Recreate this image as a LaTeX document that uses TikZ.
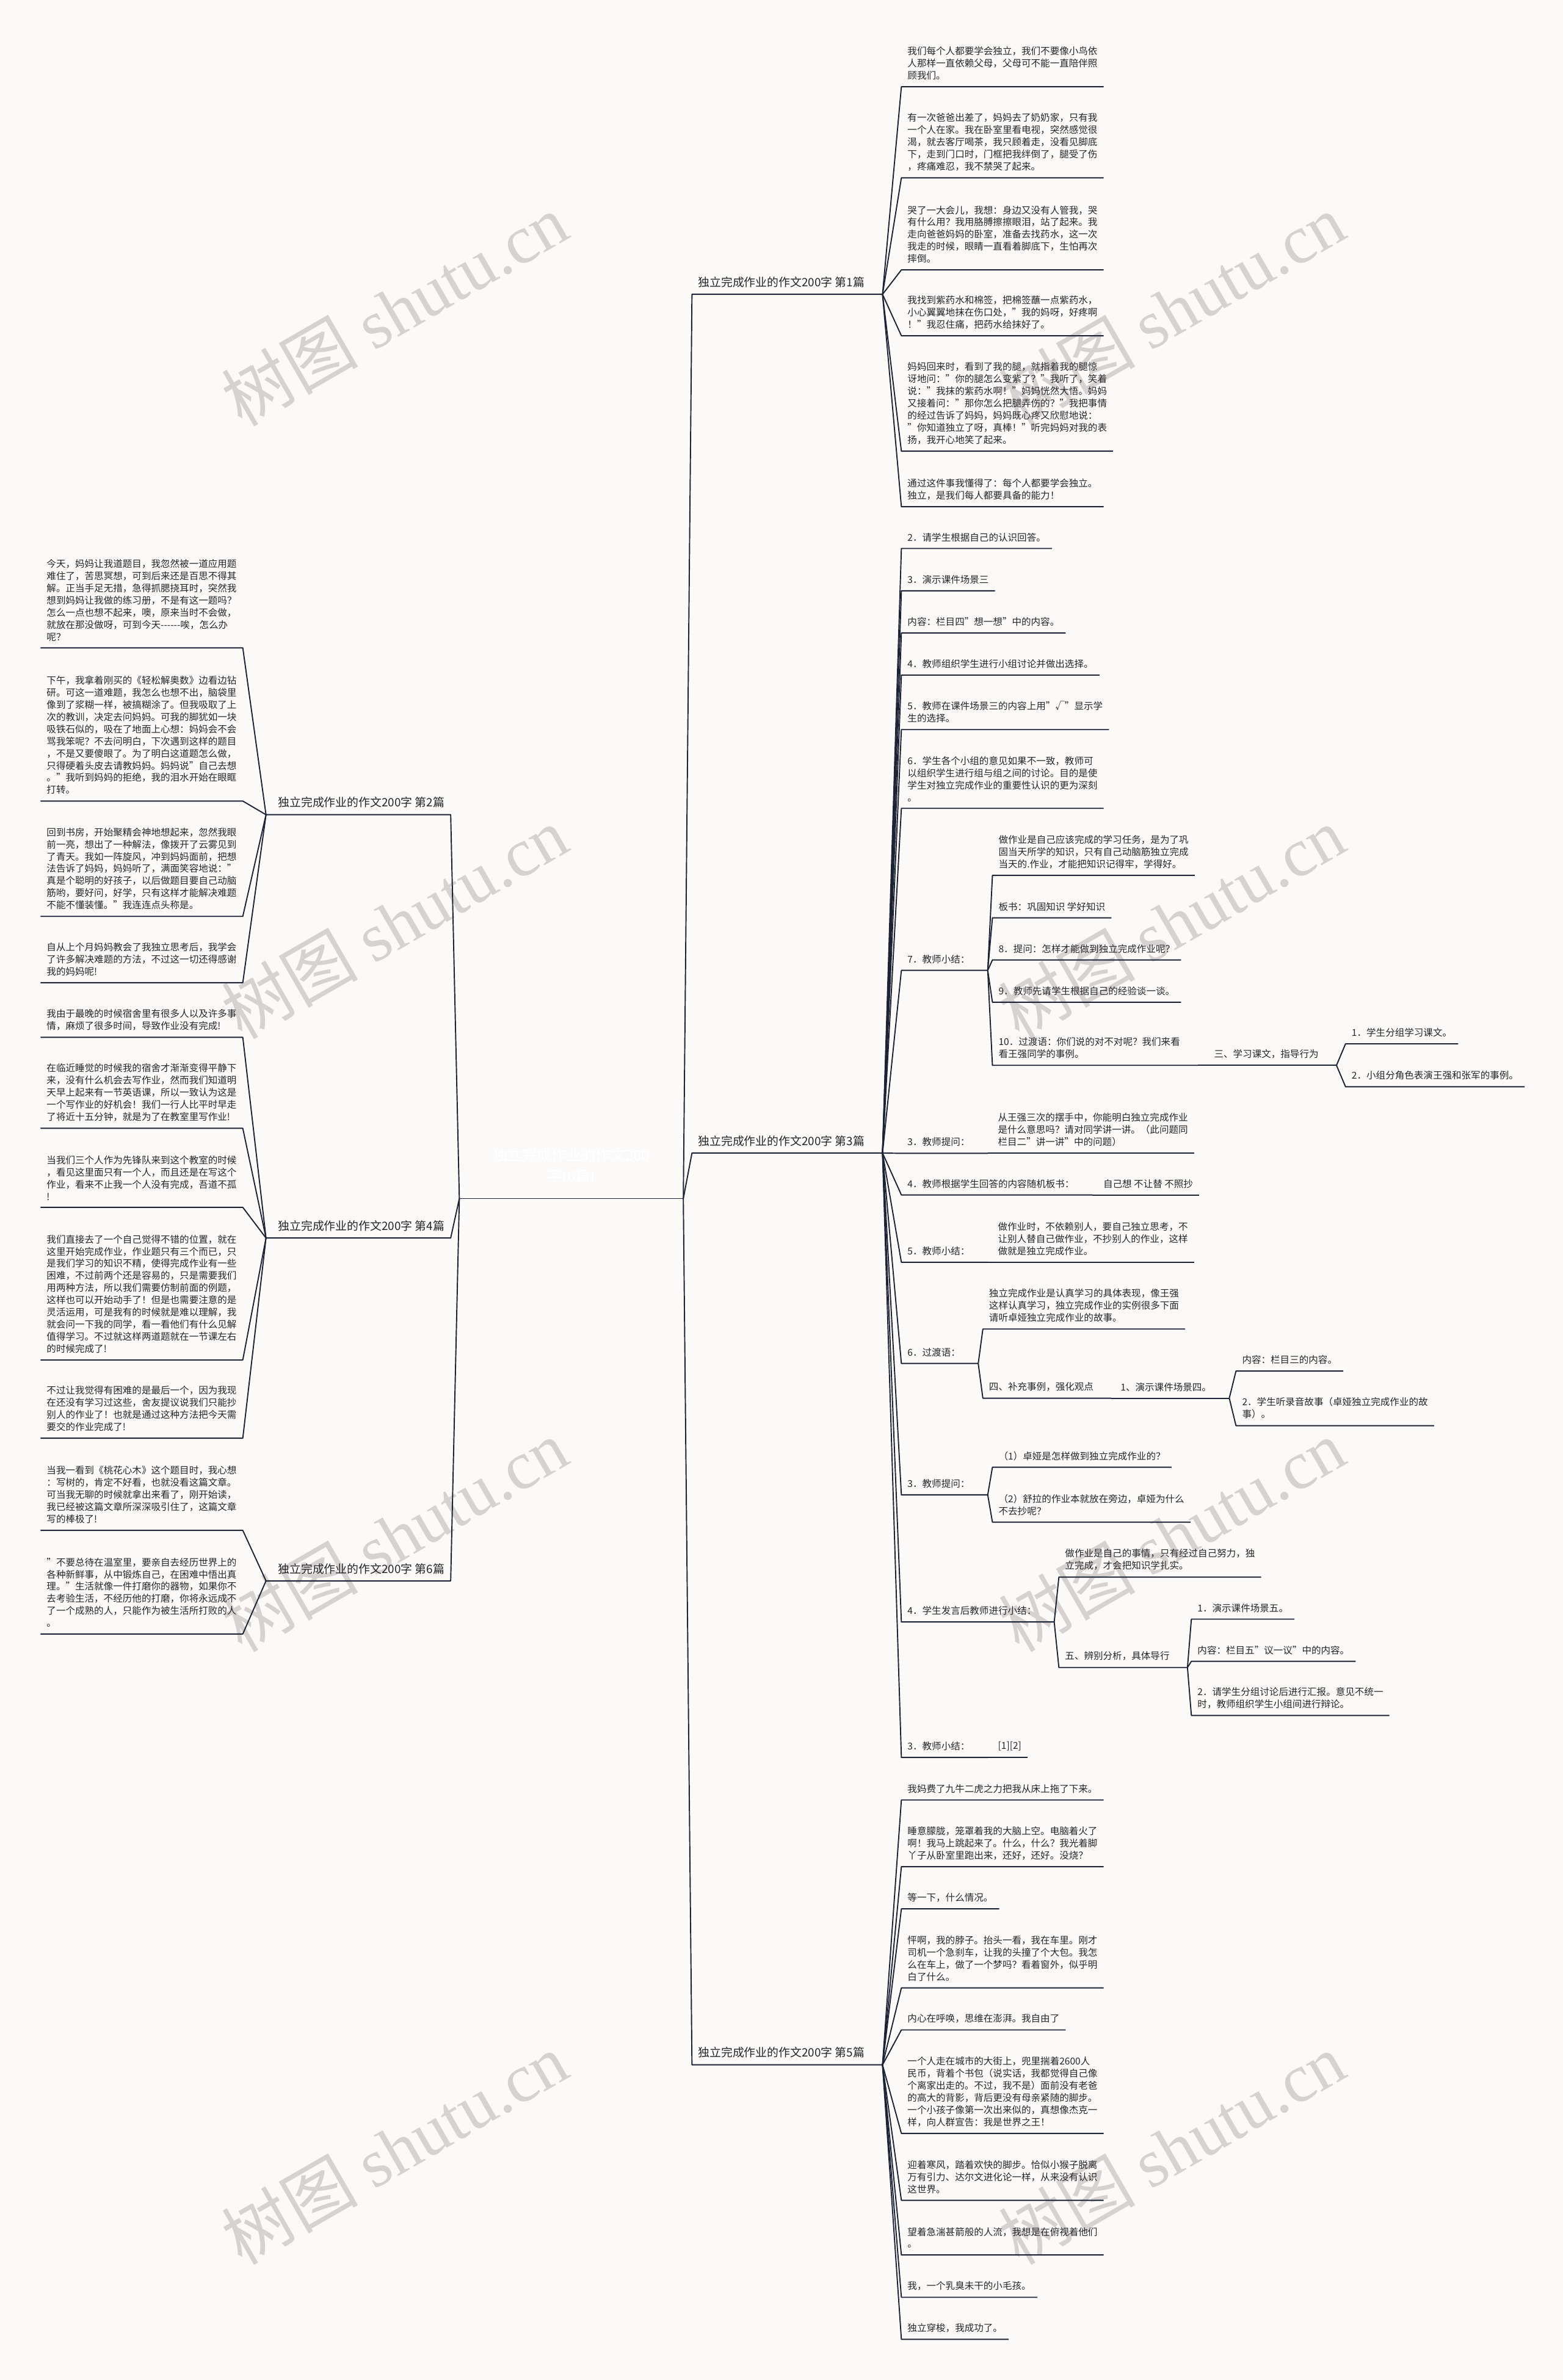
\documentclass[tikz,border=0pt]{standalone}
\usepackage{fontspec}
\setmainfont{Noto Sans CJK SC}
\newfontfamily\latinserif{Liberation Serif}
\usepackage{tikz}
\usepackage{xcolor}

\definecolor{paper}{HTML}{FCFAF9}
\definecolor{ink}{HTML}{262626}
\definecolor{wire}{HTML}{1B2335}
\definecolor{mark}{HTML}{D6D2D1}

\newcommand\leaffont{\fontsize{4.45pt}{5.7pt}\selectfont}
\newcommand\branchfont{\fontsize{5.4pt}{6.5pt}\selectfont}
\newcommand\rootfont{\fontsize{6.9pt}{9.6pt}\selectfont}
\newcommand\hy{\mbox{-}}

\begin{document}
\begin{tikzpicture}[x=0.025cm,y=-0.025cm,
    leaf/.style={anchor=south west,align=left,inner xsep=2.7pt,inner ysep=3pt,font=\leaffont,text=ink},
    leafL/.style={leaf,anchor=south east},
    hub/.style={leaf,execute at end node={\hspace*{5.5pt}}},
    branch/.style={hub,font=\branchfont},
    branchL/.style={leafL,font=\branchfont,execute at begin node={\hspace*{2.75pt}}},
    wire/.style={draw=wire,line width=0.55pt,line join=round}]
  \useasboundingbox (0,0) rectangle (1030,1568.75);
  \fill[paper] (0,0) rectangle (1030,1568.75);

  % watermark
  \foreach \wx in {260,772}
    \foreach \wy in {204,608,1012,1416}
      \node[rotate=30,text=mark,font=\fontsize{32pt}{32pt}\selectfont] (wm-\wx-\wy) at (\wx,\wy) {树图 {\latinserif shutu.cn}};

  % centre
  \node[anchor=south,align=center,minimum width=3.675cm,inner xsep=0pt,inner ysep=6.5pt,font=\rootfont,text=white] (root) at (376.5,790) {独立完成作业的作文200\\字(6篇)};
  \draw[wire] (root.south west) -- (root.south east);

  % the six essays
  \node[branch] (b1) at (456,194) {独立完成作业的作文200字 第1篇};
  \node[branch] (b3) at (456,760) {独立完成作业的作文200字 第3篇};
  \node[branch] (b5) at (456,1361) {独立完成作业的作文200字 第5篇};
  \node[branchL] (b2) at (297,537) {独立完成作业的作文200字 第2篇};
  \node[branchL] (b4) at (297,816) {独立完成作业的作文200字 第4篇};
  \node[branchL] (b6) at (297,1042) {独立完成作业的作文200字 第6篇};

  % essay 1
  \node[leaf] (s1a) at (594,57.2) {我们每个人都要学会独立，我们不要像小鸟依\\人那样一直依赖父母，父母可不能一直陪伴照\\顾我们。};
  \node[leaf] (s1b) at (594,117.2) {有一次爸爸出差了，妈妈去了奶奶家，只有我\\一个人在家。我在卧室里看电视，突然感觉很\\渴，就去客厅喝茶，我只顾着走，没看见脚底\\下，走到门口时，门框把我绊倒了，腿受了伤\\，疼痛难忍，我不禁哭了起来。};
  \node[leaf] (s1c) at (594,177.9) {哭了一大会儿，我想：身边又没有人管我，哭\\有什么用？我用胳膊擦擦眼泪，站了起来。我\\走向爸爸妈妈的卧室，准备去找药水，这一次\\我走的时候，眼睛一直看着脚底下，生怕再次\\摔倒。};
  \node[leaf] (s1d) at (594,221.3) {我找到紫药水和棉签，把棉签蘸一点紫药水，\\小心翼翼地抹在伤口处，"我的妈呀，好疼啊\\！"我忍住痛，把药水给抹好了。};
  \node[leaf] (s1e) at (594,297.4) {妈妈回来时，看到了我的腿，就指着我的腿惊\\讶地问："你的腿怎么变紫了？"我听了，笑着\\说："我抹的紫药水啊！"妈妈恍然大悟。妈妈\\又接着问："那你怎么把腿弄伤的？"我把事情\\的经过告诉了妈妈，妈妈既心疼又欣慰地说：\\"你知道独立了呀，真棒！"听完妈妈对我的表\\扬，我开心地笑了起来。};
  \node[leaf] (s1f) at (594,334) {通过这件事我懂得了：每个人都要学会独立。\\独立，是我们每人都要具备的能力！};

  % essay 3
  \node[leaf] (s3a) at (594,361.5) {2．请学生根据自己的认识回答。};
  \node[leaf] (s3b) at (594,389.4) {3．演示课件场景三};
  \node[leaf] (s3c) at (594,417.2) {内容：栏目四"想一想"中的内容。};
  \node[leaf] (s3d) at (594,445) {4．教师组织学生进行小组讨论并做出选择。};
  \node[leaf] (s3e) at (594,480.9) {5．教师在课件场景三的内容上用"√"显示学\\生的选择。};
  \node[leaf] (s3f) at (594,532.8) {6．学生各个小组的意见如果不一致，教师可\\以组织学生进行组与组之间的讨论。目的是使\\学生对独立完成作业的重要性认识的更为深刻\\。};
  \node[hub] (s3g) at (594,639.6) {7．教师小结：};
  \node[leaf] (t7a) at (654,577) {做作业是自己应该完成的学习任务，是为了巩\\固当天所学的知识，只有自己动脑筋独立完成\\当天的.作业，才能把知识记得牢，学得好。};
  \node[leaf] (t7b) at (654,605) {板书：巩固知识 学好知识};
  \node[leaf] (t7c) at (654,632.7) {8．提问：怎样才能做到独立完成作业呢？};
  \node[leaf] (t7d) at (654,660.6) {9．教师先请学生根据自己的经验谈一谈。};
  \node[hub] (t7e) at (654,702.2) {10．过渡语：你们说的对不对呢？我们来看\\看王强同学的事例。};
  \node[hub] (u3) at (796,702.2) {三、学习课文，指导行为};
  \node[leaf] (v1) at (886.7,688) {1．学生分组学习课文。};
  \node[leaf] (v2) at (886.7,716.3) {2．小组分角色表演王强和张军的事例。};
  \node[hub] (s3h) at (594,760.2) {3．教师提问：};
  \node[leaf] (t3a) at (653.6,760.2) {从王强三次的摆手中，你能明白独立完成作业\\是什么意思吗？请对同学讲一讲。（此问题同\\栏目二"讲一讲"中的问题）};
  \node[hub] (s3i) at (594,787.6) {4．教师根据学生回答的内容随机板书：};
  \node[leaf] (t4a) at (723,787.6) {自己想 不让替 不照抄};
  \node[hub] (s3j) at (594,832) {5．教师小结：};
  \node[leaf] (t5a) at (653.6,832) {做作业时，不依赖别人，要自己独立思考，不\\让别人替自己做作业，不抄别人的作业，这样\\做就是独立完成作业。};
  \node[hub] (s3k) at (594,898.7) {6．过渡语：};
  \node[leaf] (t6a) at (647.7,876) {独立完成作业是认真学习的具体表现，像王强\\这样认真学习，独立完成作业的实例很多下面\\请听卓娅独立完成作业的故事。};
  \node[hub] (t6b) at (647.7,921.6) {四、补充事例，强化观点};
  \node[hub] (u4) at (734.4,921.6) {1、演示课件场景四。};
  \node[leaf] (v3) at (814.5,903.7) {内容：栏目三的内容。};
  \node[leaf] (v4) at (814.5,939.7) {2．学生听录音故事（卓娅独立完成作业的故\\事）。};
  \node[hub] (s3l) at (594,985.3) {3．教师提问：};
  \node[leaf] (t3b) at (654,967.1) {（1）卓娅是怎样做到独立完成作业的？};
  \node[leaf] (t3c) at (654,1003.3) {（2）舒拉的作业本就放在旁边，卓娅为什么\\不去抄呢？};
  \node[hub] (s3m) at (594,1069.1) {4．学生发言后教师进行小结：};
  \node[leaf] (t8a) at (697.8,1039.5) {做作业是自己的事情，只有经过自己努力，独\\立完成，才会把知识学扎实。};
  \node[hub] (t8b) at (697.8,1099.1) {五、辨别分析，具体导行};
  \node[leaf] (v5) at (785.1,1067.2) {1．演示课件场景五。};
  \node[leaf] (v6) at (785.1,1095) {内容：栏目五"议一议"中的内容。};
  \node[leaf] (v7) at (785.1,1130.7) {2．请学生分组讨论后进行汇报。意见不统一\\时，教师组织学生小组间进行辩论。};
  \node[hub] (s3n) at (594,1158.4) {3．教师小结：};
  \node[leaf] (t9a) at (653.6,1158.4) {[1][2]};

  % essay 5
  \node[leaf] (s5a) at (594,1186.4) {我妈费了九牛二虎之力把我从床上拖了下来。};
  \node[leaf] (s5b) at (594,1230.4) {睡意朦胧，笼罩着我的大脑上空。电脑着火了\\啊！我马上跳起来了。什么，什么？我光着脚\\丫子从卧室里跑出来，还好，还好。没烧？};
  \node[leaf] (s5c) at (594,1258.2) {等一下，什么情况。};
  \node[leaf] (s5d) at (594,1310.3) {怦啊，我的脖子。抬头一看，我在车里。刚才\\司机一个急刹车，让我的头撞了个大包。我怎\\么在车上，做了一个梦吗？看着窗外，似乎明\\白了什么。};
  \node[leaf] (s5e) at (594,1338) {内心在呼唤，思维在澎湃。我自由了};
  \node[leaf] (s5f) at (594,1406.2) {一个人走在城市的大街上，兜里揣着2600人\\民币，背着个书包（说实话，我都觉得自己像\\个离家出走的。不过，我不是）面前没有老爸\\的高大的背影，背后更没有母亲紧随的脚步。\\一个小孩子像第一次出来似的，真想像杰克一\\样，向人群宣告：我是世界之王！};
  \node[leaf] (s5g) at (594,1450.3) {迎着寒风，踏着欢快的脚步。恰似小猴子脱离\\万有引力、达尔文进化论一样，从来没有认识\\这世界。};
  \node[leaf] (s5h) at (594,1486.3) {望着急湍甚箭般的人流，我想是在俯视着他们\\。};
  \node[leaf] (s5i) at (594,1514.2) {我，一个乳臭未干的小毛孩。};
  \node[leaf] (s5j) at (594,1541.9) {独立穿梭，我成功了。};

  % essay 2
  \node[leafL] (s2a) at (160,427) {今天，妈妈让我道题目，我忽然被一道应用题\\难住了，苦思冥想，可到后来还是百思不得其\\解。正当手足无措，急得抓腮挠耳时，突然我\\想到妈妈让我做的练习册，不是有这一题吗？\\怎么一点也想不起来，噢，原来当时不会做，\\就放在那没做呀，可到今天\hy\hy\hy\hy\hy\hy 唉，怎么办\\呢？};
  \node[leafL] (s2b) at (160,528) {下午，我拿着刚买的《轻松解奥数》边看边钻\\研。可这一道难题，我怎么也想不出，脑袋里\\像到了浆糊一样，被搞糊涂了。但我吸取了上\\次的教训，决定去问妈妈。可我的脚犹如一块\\吸铁石似的，吸在了地面上心想：妈妈会不会\\骂我笨呢？不去问明白，下次遇到这样的题目\\，不是又要傻眼了。为了明白这道题怎么做，\\只得硬着头皮去请教妈妈。妈妈说"自己去想\\。"我听到妈妈的拒绝，我的泪水开始在眼眶\\打转。};
  \node[leafL] (s2c) at (160,604) {回到书房，开始聚精会神地想起来，忽然我眼\\前一亮，想出了一种解法，像拨开了云雾见到\\了青天。我如一阵旋风，冲到妈妈面前，把想\\法告诉了妈妈，妈妈听了，满面笑容地说："\\真是个聪明的好孩子，以后做题目要自己动脑\\筋哟，要好问，好学，只有这样才能解决难题\\不能不懂装懂。"我连连点头称是。};
  \node[leafL] (s2d) at (160,647.7) {自从上个月妈妈教会了我独立思考后，我学会\\了许多解决难题的方法，不过这一切还得感谢\\我的妈妈呢!};

  % essay 4
  \node[leafL] (s4a) at (160,683.7) {我由于最晚的时候宿舍里有很多人以及许多事\\情，麻烦了很多时间，导致作业没有完成!};
  \node[leafL] (s4b) at (160,743.7) {在临近睡觉的时候我的宿舍才渐渐变得平静下\\来，没有什么机会去写作业，然而我们知道明\\天早上起来有一节英语课，所以一致认为这是\\一个写作业的好机会！我们一行人比平时早走\\了将近十五分钟，就是为了在教室里写作业!};
  \node[leafL] (s4c) at (160,795.8) {当我们三个人作为先锋队来到这个教室的时候\\，看见这里面只有一个人，而且还是在写这个\\作业，看来不止我一个人没有完成，吾道不孤\\!};
  \node[leafL] (s4d) at (160,896.4) {我们直接去了一个自己觉得不错的位置，就在\\这里开始完成作业，作业题只有三个而已，只\\是我们学习的知识不精，使得完成作业有一些\\困难，不过前两个还是容易的，只是需要我们\\用两种方法，所以我们需要仿制前面的例题，\\这样也可以开始动手了！但是也需要注意的是\\灵活运用，可是我有的时候就是难以理解，我\\就会问一下我的同学，看一看他们有什么见解\\值得学习。不过就这样两道题就在一节课左右\\的时候完成了!};
  \node[leafL] (s4e) at (160,948) {不过让我觉得有困难的是最后一个，因为我现\\在还没有学习过这些，舍友提议说我们只能抄\\别人的作业了！也就是通过这种方法把今天需\\要交的作业完成了!};

  % essay 6
  \node[leafL] (s6a) at (160,1008.7) {当我一看到《桃花心木》这个题目时，我心想\\：写树的，肯定不好看，也就没看这篇文章。\\可当我无聊的时候就拿出来看了，刚开始读，\\我已经被这篇文章所深深吸引住了，这篇文章\\写的棒极了!};
  \node[leafL] (s6b) at (160,1077) {"不要总待在温室里，要亲自去经历世界上的\\各种新鲜事，从中锻炼自己，在困难中悟出真\\理。"生活就像一件打磨你的器物，如果你不\\去考验生活，不经历他的打磨，你将永远成不\\了一个成熟的人，只能作为被生活所打败的人\\。};

  % connectors, each one ends in the underline of its child
  \foreach \b in {b1,b3,b5}
    \draw[wire] (root.south east) -- (\b.south west) -- (\b.south east);
  \foreach \b in {b2,b4,b6}
    \draw[wire] (root.south west) -- (\b.south east) -- (\b.south west);

  \foreach \p/\c in {b1/s1a,b1/s1b,b1/s1c,b1/s1d,b1/s1e,b1/s1f,
      b3/s3a,b3/s3b,b3/s3c,b3/s3d,b3/s3e,b3/s3f,b3/s3g,b3/s3h,b3/s3i,b3/s3j,b3/s3k,b3/s3l,b3/s3m,b3/s3n,
      s3g/t7a,s3g/t7b,s3g/t7c,s3g/t7d,s3g/t7e,t7e/u3,u3/v1,u3/v2,
      s3h/t3a,s3i/t4a,s3j/t5a,s3k/t6a,s3k/t6b,t6b/u4,u4/v3,u4/v4,
      s3l/t3b,s3l/t3c,s3m/t8a,s3m/t8b,t8b/v5,t8b/v6,t8b/v7,s3n/t9a,
      b5/s5a,b5/s5b,b5/s5c,b5/s5d,b5/s5e,b5/s5f,b5/s5g,b5/s5h,b5/s5i,b5/s5j}
    \draw[wire] (\p.south east) -- (\c.south west) -- (\c.south east);

  \foreach \p/\c in {b2/s2a,b2/s2b,b2/s2c,b2/s2d,
      b4/s4a,b4/s4b,b4/s4c,b4/s4d,b4/s4e,
      b6/s6a,b6/s6b}
    \draw[wire] (\p.south west) -- (\c.south east) -- (\c.south west);
\end{tikzpicture}
\end{document}
